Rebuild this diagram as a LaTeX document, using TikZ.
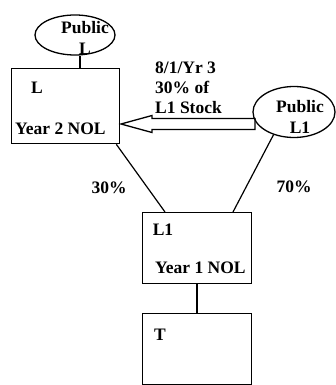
\documentclass[tikz,border=0pt]{standalone}
\usepackage{fontspec}
\setmainfont{Liberation Serif}
\usetikzlibrary{shapes.geometric,calc}
\tikzstyle{cadre} = [rectangle, draw=black, line width=1.3pt, minimum width=108pt, minimum height=72pt]
\tikzstyle{bulle} = [ellipse, draw=black, line width=1.3pt, inner sep=0pt]
\tikzstyle{texte} = [inner sep=0pt, align=left, font=\fontsize{17.5}{21}\selectfont\bfseries]

\begin{document}
\begin{tikzpicture}[x=1pt, y=-1pt]

        \useasboundingbox (0,0) rectangle (336,385);

        \node (PubL) [bulle, minimum width=80pt, minimum height=40pt] at (75,35) {};
        \node (PubLtxt) [texte, align=center] at (85,37.5) {Public\\L};

        \node (L) [cadre, anchor=north west, minimum height=75pt] at (11,68) {};
        \node (Lnom) [texte] at (37,88) {L};
        \node (Lnol) [texte, anchor=west] at (15,129) {Year 2 NOL};

        \node (PubLone) [bulle, minimum width=82pt, minimum height=51pt] at (294,112) {};
        \node (PubLonetxt) [texte, align=center] at (300,117) {Public\\L1};

        \node (date) [texte, anchor=west, baseline=0pt, font=\fontsize{17.5}{20}\selectfont\bfseries] at (155,88) {8/1/Yr 3\\30\% of\\L1 Stock};

        \node (Lone) [cadre, anchor=north west, minimum width=109pt, minimum height=71pt] at (142,212) {};
        \node (Lonenom) [texte] at (163,230) {L1};
        \node (Lonenol) [texte, anchor=west] at (155,268) {Year 1 NOL};

        \node (T) [cadre, anchor=north west, minimum width=109pt, minimum height=71pt] at (142,313) {};
        \node (Tnom) [texte] at (160,335) {T};

        \node (pctL) [texte] at (109,188) {30\%};
        \node (pctPub) [texte] at (294,187) {70\%};

        \coordinate (pointe) at (121,124);
        \coordinate (queue) at (255,124);
        \draw[line width=1.3pt, line join=miter] (pointe) -- ++(31,-8.5) -- ++(0,3) -- ($(queue)+(0,-5.5)$) -- ($(queue)+(0,5.5)$) -- ($(pointe)+(31,5.5)$) -- ++(0,3) -- cycle;

        \draw[line width=2.2pt] ([xshift=5pt]PubL.south) -- ([xshift=5pt]PubL.south |- L.north);
        \draw[line width=1.2pt] ([xshift=-4pt]L.south east) -- ([xshift=23pt]Lone.north west);
        \draw[line width=1.2pt] (PubLone.228) -- ([xshift=91pt]Lone.north west);
        \draw[line width=2.2pt] (Lone.south) -- (T.north);

    \end{tikzpicture}
\end{document}
